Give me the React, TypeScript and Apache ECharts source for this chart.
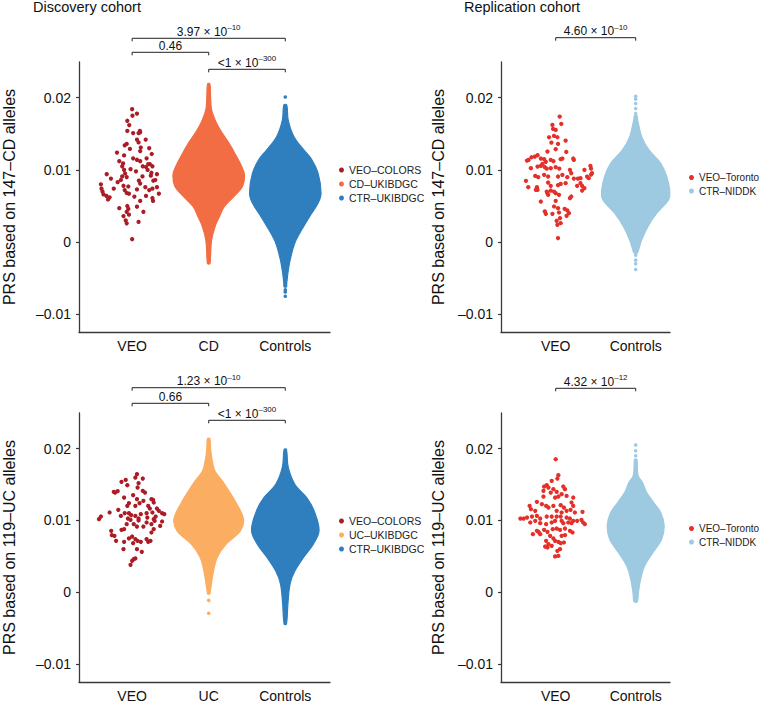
import React, { useEffect, useRef } from "react";
import * as echarts from "echarts";

const FONT = "'Liberation Sans', Arial, Helvetica, sans-serif";

// ---------- categories & labels ----------
const catsDiscoveryCD = ["VEO", "CD", "Controls"];
const catsDiscoveryUC = ["VEO", "UC", "Controls"];
const catsReplication = ["VEO", "Controls"];
const yTickValues = [-0.01, 0, 0.01, 0.02];
const panelTitles = ["Discovery cohort", "Replication cohort"];
const yNames = ["PRS based on 147–CD alleles", "PRS based on 119–UC alleles"];

// ---------- VEO individual patients: [horizontal jitter (category units), PRS] ----------
const veoColorsCD: [number, number][] = [
  [0, 0.0184], [0.004, 0.0175], [0.063, 0.0178], [-0.063, 0.0168], [-0.038, 0.0162], [-0.063, 0.0154],
  [0.013, 0.0151], [0.084, 0.0151], [0.101, 0.0154], [0.105, 0.0152], [0.063, 0.0142], [0.177, 0.0142],
  [0.084, 0.0138], [-0.097, 0.0134], [-0.071, 0.0136], [-0.029, 0.0129], [0.113, 0.0131], [-0.198, 0.0124],
  [-0.105, 0.012], [0.105, 0.0126], [0.223, 0.013], [0.256, 0.0122], [0.013, 0.0116], [0.063, 0.0114],
  [0.105, 0.0112], [0.189, 0.0116], [0.21, 0.0108], [0.231, 0.0108], [-0.168, 0.0112], [-0.118, 0.0109],
  [-0.13, 0.0105], [-0.105, 0.01], [-0.021, 0.0101], [0.139, 0.0105], [0.181, 0.0104], [0.265, 0.0105],
  [-0.092, 0.0095], [0.05, 0.0098], [0.202, 0.01], [0.252, 0.0096], [-0.332, 0.0094], [-0.277, 0.0088],
  [-0.13, 0.0091], [-0.147, 0.0086], [-0.071, 0.009], [0.088, 0.0085], [0.135, 0.0091], [0.244, 0.0092],
  [0.303, 0.0086], [0.324, 0.0094], [-0.408, 0.008], [-0.24, 0.0074], [-0.189, 0.0083], [-0.113, 0.0078],
  [-0.05, 0.0077], [0.063, 0.0073], [0.105, 0.0081], [0.172, 0.0076], [0.223, 0.0072], [0.265, 0.0074],
  [0.324, 0.0076], [0.349, 0.0067], [0.277, 0.0085], [-0.4, 0.0074], [-0.387, 0.007], [-0.374, 0.0066],
  [-0.336, 0.0064], [-0.315, 0.0059], [-0.294, 0.0062], [-0.097, 0.0072], [-0.071, 0.0068], [-0.042, 0.0067],
  [0.029, 0.0063], [0.105, 0.0057], [0.181, 0.0064], [-0.168, 0.0047], [-0.063, 0.005], [-0.05, 0.0046],
  [0.063, 0.0049], [-0.071, 0.0042], [-0.042, 0.0038], [0.147, 0.0042], [-0.113, 0.0036], [-0.084, 0.003],
  [-0.071, 0.0026], [0.084, 0.0028], [0, 0.0004], [0.265, 0.0061], [0.273, 0.0057],
];

const veoTorontoCD: [number, number][] = [
  [0.05, 0.01738], [-0.041, 0.01622], [0.07, 0.01636], [-0.033, 0.01567], [0, 0.01553], [-0.021, 0.0147],
  [-0.083, 0.01452], [0.021, 0.01452], [0.124, 0.01406], [-0.054, 0.01378], [0.029, 0.0136], [-0.103, 0.01254],
  [0, 0.01286], [0.132, 0.01249], [-0.227, 0.01203], [-0.26, 0.01184], [-0.302, 0.01175], [-0.339, 0.01138],
  [-0.359, 0.01129], [-0.186, 0.01157], [-0.145, 0.01148], [-0.124, 0.01111], [-0.165, 0.01083], [-0.062, 0.01138],
  [-0.029, 0.0112], [0.062, 0.01148], [0.083, 0.01157], [0.219, 0.01157], [0.227, 0.01138], [-0.31, 0.01023],
  [-0.227, 0.01046], [-0.186, 0.01055], [-0.136, 0.01037], [-0.112, 0.01018], [-0.062, 0.01023], [0, 0.01037],
  [0.045, 0.01018], [0.178, 0.01], [0.194, 0.00954], [0.359, 0.01], [0.434, 0.01055], [0.442, 0.01018],
  [0.454, 0.00954], [0.392, 0.00908], [0.31, 0.00885], [0.413, 0.00885], [0.442, 0.00935], [-0.372, 0.00848],
  [-0.256, 0.00917], [-0.219, 0.00899], [-0.145, 0.00931], [-0.095, 0.00908], [0.029, 0.00908], [0.083, 0.00931],
  [0.145, 0.00899], [0.227, 0.0088], [0.277, 0.0088], [0.31, 0.00816], [0.268, 0.00779], [0.33, 0.00779],
  [0.359, 0.00746], [0.33, 0.00714], [-0.235, 0.0076], [-0.248, 0.00723], [-0.227, 0.00723], [-0.343, 0.0076],
  [-0.095, 0.00825], [-0.062, 0.00779], [0.029, 0.00788], [0.062, 0.00806], [0.124, 0.00816], [-0.112, 0.007],
  [-0.103, 0.00677], [-0.095, 0.00654], [-0.062, 0.00714], [-0.021, 0.007], [0, 0.00677], [0.041, 0.00654],
  [-0.186, 0.00562], [0, 0.00571], [0.194, 0.00631], [0.178, 0.00608], [-0.136, 0.00424], [-0.124, 0.00391],
  [-0.041, 0.00391], [-0.021, 0.00493], [0.029, 0.0047], [0.041, 0.0041], [0.112, 0.00461], [0.145, 0.00438],
  [0.165, 0.00401], [0.136, 0.00364], [0.012, 0.00295], [0.021, 0.00239], [0.054, 0.00331], [0.062, 0.00262],
  [0.029, 0.00055],
];

const veoColorsUC: [number, number][] = [
  [0.063, 0.01643], [0.042, 0.01597], [0.139, 0.01583], [-0.084, 0.01564], [-0.139, 0.01537], [-0.063, 0.0149],
  [0.084, 0.01518], [-0.24, 0.01398], [-0.223, 0.01388], [-0.189, 0.01407], [0.071, 0.01458], [0.139, 0.01412],
  [0.168, 0.01388], [-0.105, 0.01319], [0.013, 0.01351], [0.063, 0.01296], [0.147, 0.01273], [0.252, 0.01296],
  [0.273, 0.01287], [0.282, 0.0125], [-0.042, 0.0124], [-0.063, 0.01203], [0.042, 0.01203], [0.097, 0.0124],
  [0.21, 0.01203], [0.231, 0.01166], [0.324, 0.01166], [0.349, 0.01134], [0.42, 0.01088], [0.391, 0.01101],
  [-0.294, 0.01111], [-0.181, 0.01148], [-0.147, 0.01064], [-0.097, 0.01101], [-0.042, 0.01101], [-0.013, 0.01074],
  [0.042, 0.01064], [0.084, 0.01027], [0.084, 0.01], [0.113, 0.01088], [0.189, 0.01101], [0.265, 0.01111],
  [0.307, 0.01055], [0.282, 0.01018], [0.198, 0.01041], [-0.408, 0.01055], [-0.433, 0.01018], [-0.055, 0.01027],
  [-0.021, 0.01009], [-0.071, 0.00949], [0.021, 0.00949], [0.063, 0.00916], [0.189, 0.00972], [0.252, 0.00949],
  [0.294, 0.00995], [0.391, 0.00986], [0.366, 0.00925], [-0.105, 0.00879], [-0.139, 0.0087], [0.147, 0.00916],
  [0.282, 0.00879], [0.252, 0.00833], [-0.273, 0.00856], [-0.265, 0.00796], [-0.231, 0.00787], [-0.21, 0.00717],
  [-0.042, 0.0075], [0, 0.00777], [0.042, 0.0074], [0.189, 0.0074], [0.21, 0.00703], [0.24, 0.00717],
  [-0.105, 0.00703], [0.013, 0.00685], [0.071, 0.00717], [0.113, 0.00703], [-0.113, 0.00601], [0.063, 0.00601],
  [0.126, 0.00564], [0.021, 0.00463], [0.042, 0.00472], [0, 0.00439], [-0.021, 0.00384],
];

const veoTorontoUC: [number, number][] = [
  [0, 0.01851], [0.033, 0.01629], [0.021, 0.01583], [-0.05, 0.0155], [-0.112, 0.0149], [-0.145, 0.01472],
  [-0.091, 0.01458], [-0.029, 0.01435], [0.095, 0.01472], [0.116, 0.01435], [-0.153, 0.01412], [-0.062, 0.01388],
  [0.012, 0.01398], [0.074, 0.01365], [-0.008, 0.01319], [0.033, 0.01333], [0.136, 0.01342], [0.219, 0.01319],
  [-0.153, 0.01333], [-0.235, 0.01259], [-0.173, 0.01226], [-0.12, 0.01203], [-0.091, 0.0118], [-0.029, 0.01203],
  [0.062, 0.01213], [0.103, 0.0118], [0.198, 0.0125], [0.219, 0.01203], [-0.326, 0.01203], [-0.31, 0.01157],
  [-0.256, 0.01134], [0.012, 0.01134], [0.074, 0.01111], [0.136, 0.01134], [0.186, 0.01148], [0.24, 0.01111],
  [0.335, 0.0112], [-0.442, 0.01027], [-0.401, 0.01027], [-0.359, 0.01041], [-0.297, 0.01055], [-0.235, 0.01064],
  [-0.194, 0.01027], [-0.112, 0.01055], [-0.05, 0.01055], [0.012, 0.01055], [0.062, 0.01055], [0.136, 0.01041],
  [0.178, 0.01027], [0.219, 0.00995], [0.268, 0.00995], [0.322, 0.01009], [0.343, 0.00972], [0.364, 0.00949],
  [-0.318, 0.00972], [-0.256, 0.00995], [-0.194, 0.00963], [-0.12, 0.00949], [-0.05, 0.00972], [-0.008, 0.00995],
  [0.074, 0.00995], [0.095, 0.00963], [0.157, 0.00972], [0.198, 0.00963], [-0.235, 0.00856], [-0.215, 0.00842],
  [-0.145, 0.0087], [-0.103, 0.00842], [-0.037, 0.00879], [0.012, 0.00888], [0.054, 0.0087], [0.116, 0.00888],
  [0.178, 0.00856], [0.211, 0.00833], [-0.285, 0.0081], [-0.194, 0.0081], [-0.07, 0.00787], [0.074, 0.00787],
  [0.116, 0.00796], [-0.12, 0.00717], [-0.091, 0.00671], [-0.029, 0.0075], [-0.008, 0.00717], [0.033, 0.00703],
  [0.062, 0.00685], [0.103, 0.00694], [-0.132, 0.00638], [-0.103, 0.00625], [-0.05, 0.00648], [0.021, 0.00578],
  [0.054, 0.00601], [-0.008, 0.005], [0.033, 0.00509],
];

// ---------- large cohorts: density outline [PRS, half-width (category units)] ----------
const cdUKIBDGC: [number, number][] = [
  [0.0219, 0.015], [0.0200, 0.025], [0.0183, 0.038], [0.0165, 0.101], [0.0151, 0.177], [0.0137, 0.265],
  [0.0123, 0.340], [0.0105, 0.429], [0.0093, 0.467], [0.0077, 0.441], [0.0063, 0.328], [0.0049, 0.202],
  [0.0035, 0.139], [0.0022, 0.084], [0.0003, 0.038], [-0.0025, 0.021], [-0.0030, 0.015],
];
const ctrUKIBDGC_CD: [number, number][] = [
  [0.0190, 0.019], [0.0169, 0.038], [0.0146, 0.113], [0.0128, 0.240], [0.0114, 0.347], [0.0095, 0.429],
  [0.0068, 0.467], [0.0054, 0.429], [0.0035, 0.315], [0.0017, 0.214], [-0.0001, 0.126], [-0.0025, 0.063],
  [-0.0043, 0.034], [-0.0057, 0.019], [-0.0062, 0.015],
];
const ctrUKIBDGC_CD_outliers = [0.0201, -0.0066, -0.0069, -0.0075];

const ctrNIDDK_CD: [number, number][] = [
  [0.0175, 0.015], [0.0169, 0.025], [0.0146, 0.075], [0.0128, 0.163], [0.0109, 0.313], [0.0091, 0.388],
  [0.0072, 0.425], [0.0059, 0.413], [0.0040, 0.263], [0.0022, 0.156], [0.0003, 0.075], [-0.0010, 0.038],
  [-0.0015, 0.02],
];
const ctrNIDDK_CD_outliers = [0.0202, 0.0198, 0.0192, 0.0185, 0.0178, -0.0018, -0.0025, -0.003, -0.0038];

const ucUKIBDGC: [number, number][] = [
  [0.0214, 0.015], [0.0200, 0.025], [0.0188, 0.038], [0.0169, 0.079], [0.0155, 0.177], [0.0141, 0.265],
  [0.0123, 0.366], [0.0102, 0.454], [0.0086, 0.416], [0.0067, 0.227], [0.0049, 0.113], [0.0030, 0.063],
  [0.0002, 0.021], [-0.0002, 0.015],
];
const ucUKIBDGC_outliers = [-0.0011, -0.0029];

const ctrUKIBDGC_UC: [number, number][] = [
  [0.0199, 0.015], [0.0174, 0.038], [0.0150, 0.126], [0.0132, 0.277], [0.0113, 0.378], [0.0086, 0.441],
  [0.0067, 0.366], [0.0049, 0.240], [0.0030, 0.126], [0.0012, 0.063], [-0.0016, 0.034], [-0.0044, 0.015],
];

const ctrNIDDK_UC: [number, number][] = [
  [0.0185, 0.015], [0.0180, 0.019], [0.0162, 0.031], [0.0153, 0.084], [0.0139, 0.138], [0.0125, 0.225],
  [0.0111, 0.313], [0.0093, 0.356], [0.0074, 0.325], [0.0056, 0.219], [0.0037, 0.113], [0.0019, 0.063],
  [0.0000, 0.034], [-0.0013, 0.02],
];
const ctrNIDDK_UC_outliers = [0.0205, 0.0197, 0.019];

// ---------- comparisons: [panel, from category, to category], p-value text ----------
const comparisons: { panel: number; from: number; to: number; mant: string; exp: string }[] = [
  { panel: 0, from: 1, to: 3, mant: "3.97 × 10", exp: "–10" },
  { panel: 0, from: 1, to: 2, mant: "0.46", exp: "" },
  { panel: 0, from: 2, to: 3, mant: "<1 × 10", exp: "–300" },
  { panel: 1, from: 1, to: 2, mant: "4.60 × 10", exp: "–10" },
  { panel: 2, from: 1, to: 3, mant: "1.23 × 10", exp: "–10" },
  { panel: 2, from: 1, to: 2, mant: "0.66", exp: "" },
  { panel: 2, from: 2, to: 3, mant: "<1 × 10", exp: "–300" },
  { panel: 3, from: 1, to: 2, mant: "4.32 × 10", exp: "–12" },
];

// ---------- styling / layout ----------
const COL_VEO_COLORS = "#ab1d26";
const COL_VEO_TORONTO = "#e5302a";
const COL_CD = "#f26d43";
const COL_UC = "#fbad62";
const COL_CTR = "#2f7ebe";
const COL_NIDDK = "#9dc9e1";

const grids = [
  { left: 70, top: 62, width: 260, height: 270 },
  { left: 501, top: 62, width: 169, height: 270 },
  { left: 70, top: 413, width: 260, height: 270 },
  { left: 501, top: 413, width: 169, height: 270 },
];
const xRanges = [
  [0.306, 3.584],
  [0.316, 2.429],
  [0.306, 3.584],
  [0.316, 2.429],
];
const bracketY = [38.3, 52.3, 69.3, 37.7, 387.7, 403.3, 420.3, 388.3];

export default function App() {
  const ref = useRef<HTMLDivElement>(null);

  useEffect(() => {
    if (!ref.current) return;
    const chart = echarts.init(ref.current, undefined, { renderer: "svg" });
    const panelCats = [catsDiscoveryCD, catsReplication, catsDiscoveryUC, catsReplication];

    const xAxis = grids.map((_, i) => ({
      type: "value",
      gridIndex: i,
      min: xRanges[i][0],
      max: xRanges[i][1],
      splitLine: { show: false },
      axisTick: { show: false },
      axisLine: { show: true, onZero: false, lineStyle: { color: "#3a3a3a", width: 1.3 } },
      axisLabel: {
        customValues: panelCats[i].map((_, k) => k + 1),
        formatter: (v: number) => panelCats[i][Math.round(v) - 1] ?? "",
        fontFamily: FONT,
        fontSize: 14,
        color: "#111",
        margin: 7,
      },
    }));

    const yAxis = grids.map((_, i) => ({
      type: "value",
      gridIndex: i,
      min: -0.01245,
      max: 0.02494,
      splitLine: { show: false },
      axisLine: { show: true, lineStyle: { color: "#3a3a3a", width: 1.3 } },
      axisTick: { show: true, length: 3, customValues: yTickValues, lineStyle: { color: "#3a3a3a", width: 1.2 } },
      axisLabel: {
        customValues: yTickValues,
        formatter: (v: number) => (v === 0 ? "0" : v < 0 ? "–" + String(Math.abs(v)) : String(v)),
        fontFamily: FONT,
        fontSize: 14,
        color: "#111",
        margin: 8,
      },
      name: i < 2 ? yNames[0] : yNames[1],
      nameLocation: "middle",
      nameGap: i % 2 === 0 ? 62 : 55,
      nameTextStyle: { fontFamily: FONT, fontSize: 16, color: "#111" },
    }));

    const scatter = (name: string, pts: [number, number][], cat: number, idx: number, color: string) => ({
      type: "scatter",
      name,
      xAxisIndex: idx,
      yAxisIndex: idx,
      symbol: "circle",
      symbolSize: 4.3,
      itemStyle: { color, opacity: 1 },
      data: pts.map(([dx, v]) => [cat + dx, v]),
      silent: true,
      z: 3,
    });

    const violin = (name: string, profile: [number, number][], cat: number, idx: number, color: string) => ({
      type: "custom",
      name,
      xAxisIndex: idx,
      yAxisIndex: idx,
      itemStyle: { color },
      data: [[cat, profile[0][0]]],
      silent: true,
      z: 2,
      renderItem: (_p: any, api: any) => {
        const right = profile.map(([v, w]) => api.coord([cat + w, v]));
        const left = profile
          .slice()
          .reverse()
          .map(([v, w]) => api.coord([cat - w, v]));
        return {
          type: "polygon",
          shape: { points: right.concat(left), smooth: 0.35 },
          style: { fill: color, stroke: color, lineWidth: 1.2 },
        };
      },
    });

    const outliers = (name: string, vals: number[], cat: number, idx: number, color: string) => ({
      type: "scatter",
      name,
      xAxisIndex: idx,
      yAxisIndex: idx,
      symbol: "circle",
      symbolSize: 3.6,
      itemStyle: { color, opacity: 1 },
      data: vals.map((v) => [cat, v]),
      silent: true,
      z: 2,
    });

    const series = [
      scatter("VEO–COLORS", veoColorsCD, 1, 0, COL_VEO_COLORS),
      violin("CD–UKIBDGC", cdUKIBDGC, 2, 0, COL_CD),
      violin("CTR–UKIBDGC", ctrUKIBDGC_CD, 3, 0, COL_CTR),
      outliers("CTR–UKIBDGC", ctrUKIBDGC_CD_outliers, 3, 0, COL_CTR),

      scatter("VEO–Toronto", veoTorontoCD, 1, 1, COL_VEO_TORONTO),
      violin("CTR–NIDDK", ctrNIDDK_CD, 2, 1, COL_NIDDK),
      outliers("CTR–NIDDK", ctrNIDDK_CD_outliers, 2, 1, COL_NIDDK),

      scatter("VEO–COLORS", veoColorsUC, 1, 2, COL_VEO_COLORS),
      violin("UC–UKIBDGC", ucUKIBDGC, 2, 2, COL_UC),
      outliers("UC–UKIBDGC", ucUKIBDGC_outliers, 2, 2, COL_UC),
      violin("CTR–UKIBDGC", ctrUKIBDGC_UC, 3, 2, COL_CTR),

      scatter("VEO–Toronto", veoTorontoUC, 1, 3, COL_VEO_TORONTO),
      violin("CTR–NIDDK", ctrNIDDK_UC, 2, 3, COL_NIDDK),
      outliers("CTR–NIDDK", ctrNIDDK_UC_outliers, 2, 3, COL_NIDDK),
    ];

    const legendBase = {
      orient: "vertical",
      icon: "circle",
      itemWidth: 5,
      itemHeight: 5,
      itemGap: 3,
      selectedMode: false,
      textStyle: { fontFamily: FONT, fontSize: 10.5, color: "#222" },
    };
    const legendRight = {
      ...legendBase,
      itemGap: 3.5,
      textStyle: { fontFamily: FONT, fontSize: 10, color: "#222" },
    };

    const option: any = {
      animation: false,
      backgroundColor: "#ffffff",
      grid: grids.map((g) => ({ ...g, containLabel: false })),
      xAxis,
      yAxis,
      legend: [
        { ...legendBase, left: 334, top: 159.5, data: ["VEO–COLORS", "CD–UKIBDGC", "CTR–UKIBDGC"] },
        { ...legendRight, left: 684, top: 167.5, data: ["VEO–Toronto", "CTR–NIDDK"] },
        { ...legendBase, left: 334, top: 510.5, data: ["VEO–COLORS", "UC–UKIBDGC", "CTR–UKIBDGC"] },
        { ...legendRight, left: 684, top: 518.5, data: ["VEO–Toronto", "CTR–NIDDK"] },
      ],
      series,
    };
    chart.setOption(option);

    const graphics: any[] = [
      {
        type: "text",
        left: 33,
        top: -1,
        style: { text: panelTitles[0], font: `14.5px ${FONT}`, fill: "#111" },
      },
      {
        type: "text",
        left: 464,
        top: -1,
        style: { text: panelTitles[1], font: `14.5px ${FONT}`, fill: "#111" },
      },
    ];

    comparisons.forEach((c, i) => {
      const x1 = chart.convertToPixel({ xAxisIndex: c.panel } as any, c.from) as unknown as number;
      const x2 = chart.convertToPixel({ xAxisIndex: c.panel } as any, c.to) as unknown as number;
      const y = bracketY[i];
      graphics.push({
        type: "polyline",
        shape: { points: [[x1, y + 3], [x1, y], [x2, y], [x2, y + 3]] },
        style: { stroke: "#222", lineWidth: 1, fill: null },
        silent: true,
      });
      graphics.push({
        type: "text",
        x: (x1 + x2) / 2,
        y: y - 0.5,
        style: {
          text: c.exp ? `{m|${c.mant}}{e|${c.exp}}` : `{m|${c.mant}}`,
          align: "center",
          verticalAlign: "bottom",
          rich: {
            m: { fontFamily: FONT, fontSize: 12, lineHeight: 14, fill: "#111", verticalAlign: "bottom" },
            e: { fontFamily: FONT, fontSize: 8, lineHeight: 8, fill: "#111", verticalAlign: "top" },
          },
        },
        silent: true,
      });
    });

    chart.setOption({ graphic: graphics });

    return () => chart.dispose();
  }, []);

  return (
    <div
      ref={ref}
      style={{ position: "absolute", left: 0, top: 0, width: 759, height: 703, background: "#fff" }}
    />
  );
}
